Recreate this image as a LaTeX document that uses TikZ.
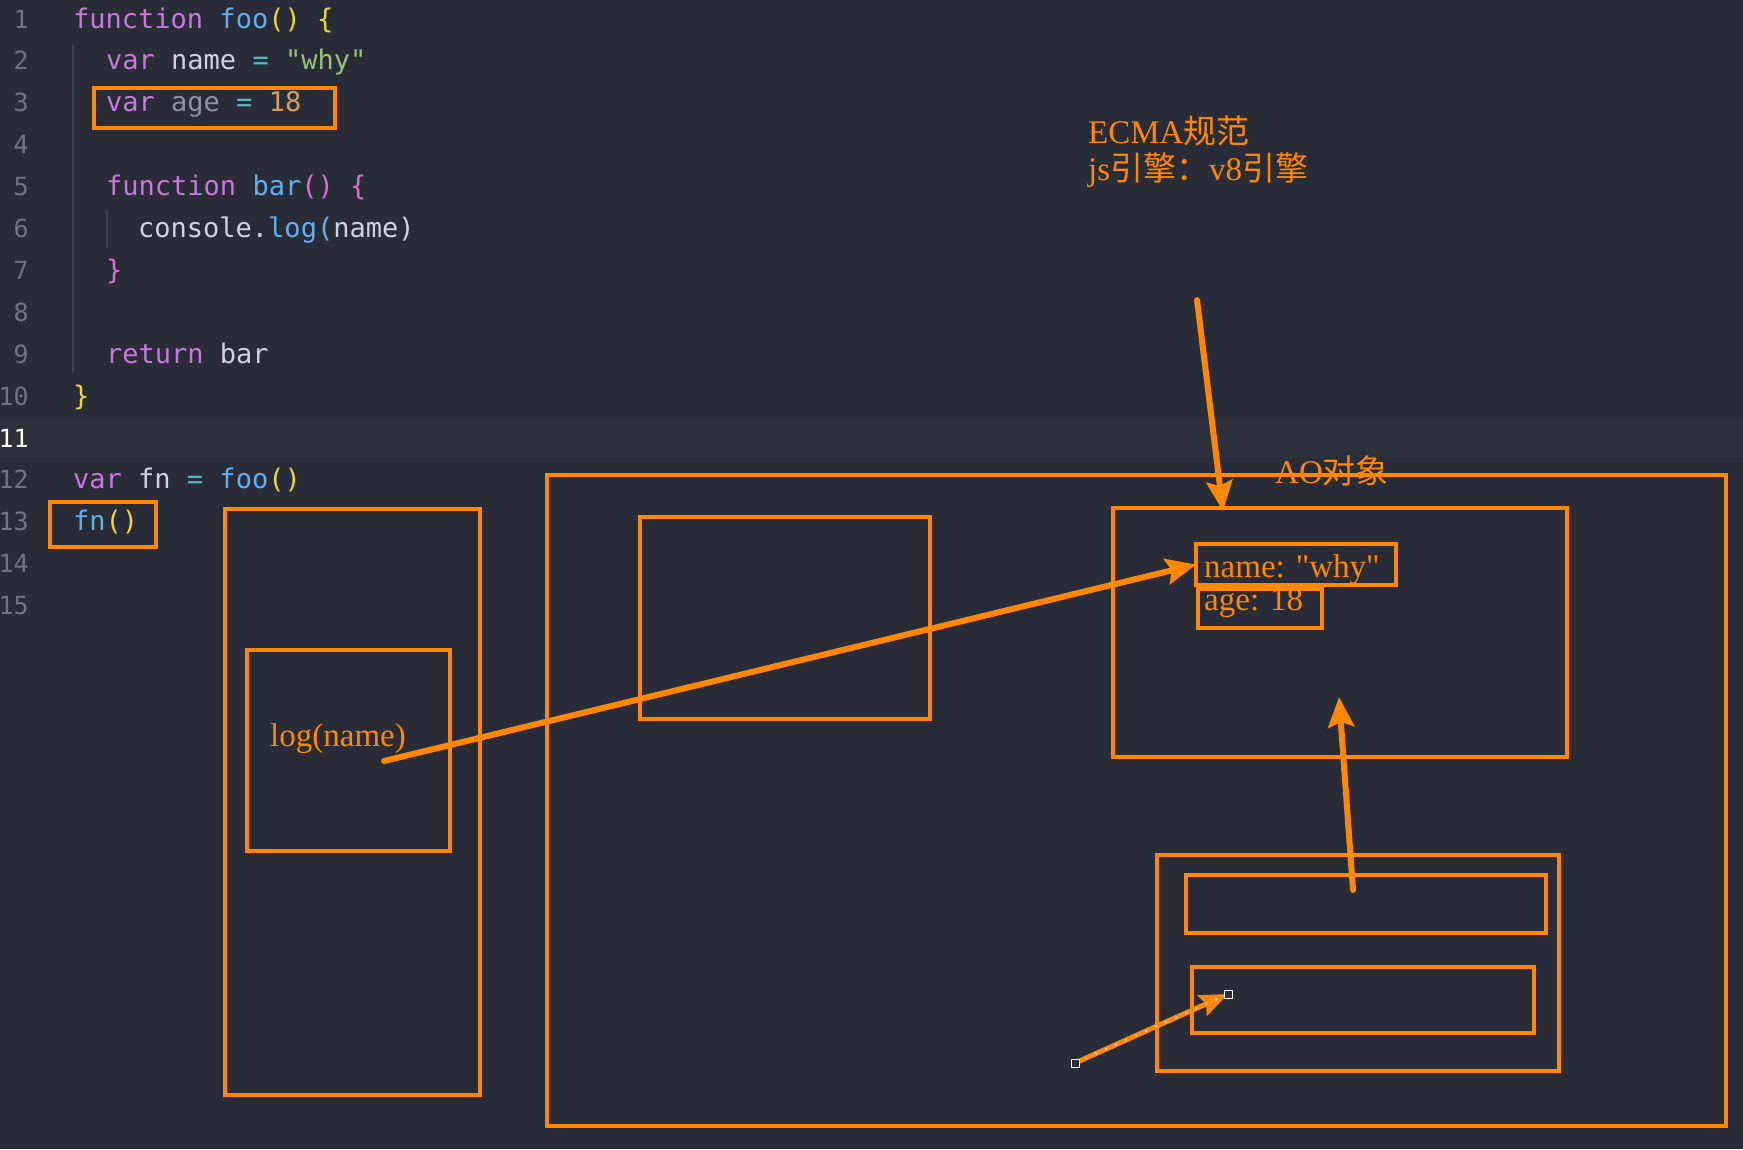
\documentclass[tikz,border=0pt]{standalone}
\usepackage{fontspec}
\setmainfont{Liberation Serif}[Ligatures=TeXOff]
\setmonofont{DejaVu Sans Mono}
\newfontfamily\cjk{Noto Sans CJK SC}
\usetikzlibrary{arrows.meta}

\definecolor{bg}{RGB}{41,44,54}
\definecolor{hl}{RGB}{45,48,59}
\definecolor{guide}{RGB}{60,64,76}
\definecolor{orng}{RGB}{255,136,0}
\definecolor{kw}{RGB}{198,120,221}
\definecolor{fnc}{RGB}{97,175,239}
\definecolor{gold}{RGB}{232,214,60}
\definecolor{orchid}{RGB}{213,112,208}
\definecolor{idf}{RGB}{208,211,217}
\definecolor{op}{RGB}{86,182,194}
\definecolor{str}{RGB}{152,195,121}
\definecolor{num}{RGB}{214,156,100}
\definecolor{dim}{RGB}{140,146,158}
\definecolor{lnc}{RGB}{110,116,128}

\tikzset{
  box/.style={draw=orng,line width=4pt,inner sep=0pt,outer sep=0pt},
  arr/.style={draw=orng,line width=6pt,line cap=round,
    -{Stealth[length=30pt,width=26pt,inset=5pt]}},
  code/.style={anchor=base west,inner sep=0pt,text=idf,font=\fontsize{27}{32}\ttfamily},
  lnum/.style={anchor=base east,inner sep=0pt,text=lnc,font=\fontsize{25}{30}\ttfamily},
  note/.style={anchor=base west,inner sep=0pt,text=orng,font=\fontsize{33}{40}\selectfont}
}

\begin{document}
\begin{tikzpicture}[x=1pt,y=-1pt]
  \fill[bg] (0,0) rectangle (1743,1149);
  \useasboundingbox (0,0) rectangle (1743,1149);
  % current line and indent guides
  \fill[hl] (0,420) rectangle (1743,458);
  \draw[guide,line width=1.2pt] (73,45) -- (73,372);
  \draw[guide,line width=1.2pt] (107,210) -- (107,248);

  % line numbers
  \foreach \n in {1,...,10,12,13,14,15}
    \node[lnum] (ln\n) at (29,{28+(\n-1)*41.9}) {\n};
  \node[lnum,text=white] (ln11) at (29,{28+10*41.9}) {11};

  % code
  \node[code] (c1) at (73,28.0) {\textcolor{kw}{function} \textcolor{fnc}{foo}\textcolor{gold}{() \{}};
  \node[code] (c2) at (106,69.9) {\textcolor{kw}{var} name \textcolor{op}{=} \textcolor{str}{"why"}};
  \node[code] (c3) at (106,111.8) {\textcolor{kw}{var} \textcolor{dim}{age} \textcolor{op}{=} \textcolor{num}{18}};
  \node[code] (c5) at (106,195.6) {\textcolor{kw}{function} \textcolor{fnc}{bar}\textcolor{orchid}{() \{}};
  \node[code] (c6) at (138,237.5) {console.\textcolor{fnc}{log(}name)};
  \node[code] (c7) at (106,279.4) {\textcolor{orchid}{\}}};
  \node[code] (c9) at (106,363.2) {\textcolor{kw}{return} bar};
  \node[code] (c10) at (73,405.1) {\textcolor{gold}{\}}};
  \node[code] (c12) at (73,488.9) {\textcolor{kw}{var} fn \textcolor{op}{=} \textcolor{fnc}{foo}\textcolor{gold}{()}};
  \node[code] (c13) at (73,530.8) {\textcolor{fnc}{fn}\textcolor{gold}{()}};

  % boxes
  \node[box,minimum width=241,minimum height=40] (agebox) at (214.5,108) {};
  \node[box,minimum width=106,minimum height=45] (callbox) at (103,524.5) {};
  \node[box,minimum width=255.5,minimum height=586] (stackbox) at (352.25,802) {};
  \node[box,minimum width=203,minimum height=201] (logbox) at (348.5,750.5) {};
  \node[box,minimum width=1179,minimum height=651.4] (heapbox) at (1136.5,800.3) {};
  \node[box,minimum width=290,minimum height=202] (fobox) at (785,618) {};
  \node[box,minimum width=454,minimum height=249] (aobox) at (1340,632.5) {};
  \node[box,minimum width=200,minimum height=41] (nameval) at (1296,564.5) {};
  \node[box,minimum width=124,minimum height=39] (ageval) at (1260,608.5) {};
  \node[box,minimum width=401.5,minimum height=215.5] (ctxbox) at (1357.75,962.75) {};
  \node[box,minimum width=360,minimum height=58] (vobox) at (1366,904) {};
  \node[box,minimum width=342,minimum height=66] (sbox) at (1363,1000) {};

  % texts
  \node[note] (ecma) at (1088,143) {ECMA{\cjk 规范}};
  \node[note] (engine) at (1088,180) {js{\cjk 引擎：}v8{\cjk 引擎}};
  \node[note] (aolabel) at (1275,483) {AO{\cjk 对象}};
  \node[note] (logtext) at (270,746) {log(name)};
  \node[note] (nametext) at (1204,577) {name: "why"};
  \node[note] (agetext) at (1204,610) {age: 18};

  % arrows
  \coordinate (ecmaTail) at (1197,300);
  \coordinate (aoIn) at (1223,511);
  \coordinate (logTail) at (384,761);
  \coordinate (voTail) at (1353,890);
  \coordinate (aoBottom) at (1339,697);
  \coordinate (dragTail) at (1075,1063);
  \coordinate (dragTip) at (1228,994);
  \draw[arr] (ecmaTail) -- (aoIn);
  \draw[arr] (logTail) -- (nameval.west);
  \draw[arr] (voTail) -- (aoBottom);
  \draw[draw=orng,line width=5pt,-{Stealth[length=28pt,width=22pt,inset=4pt]}] (dragTail) -- (dragTip);
  \draw[gray!40,line width=2pt,dash pattern=on 2pt off 9pt] (dragTail) -- (dragTip);
  \draw[white,line width=1pt,fill=bg] ([shift={(-4,-4)}]dragTail) rectangle ([shift={(4,4)}]dragTail);
  \draw[white,line width=1pt,fill=bg] ([shift={(-4,-4)}]dragTip) rectangle ([shift={(4,4)}]dragTip);
\end{tikzpicture}
\end{document}
